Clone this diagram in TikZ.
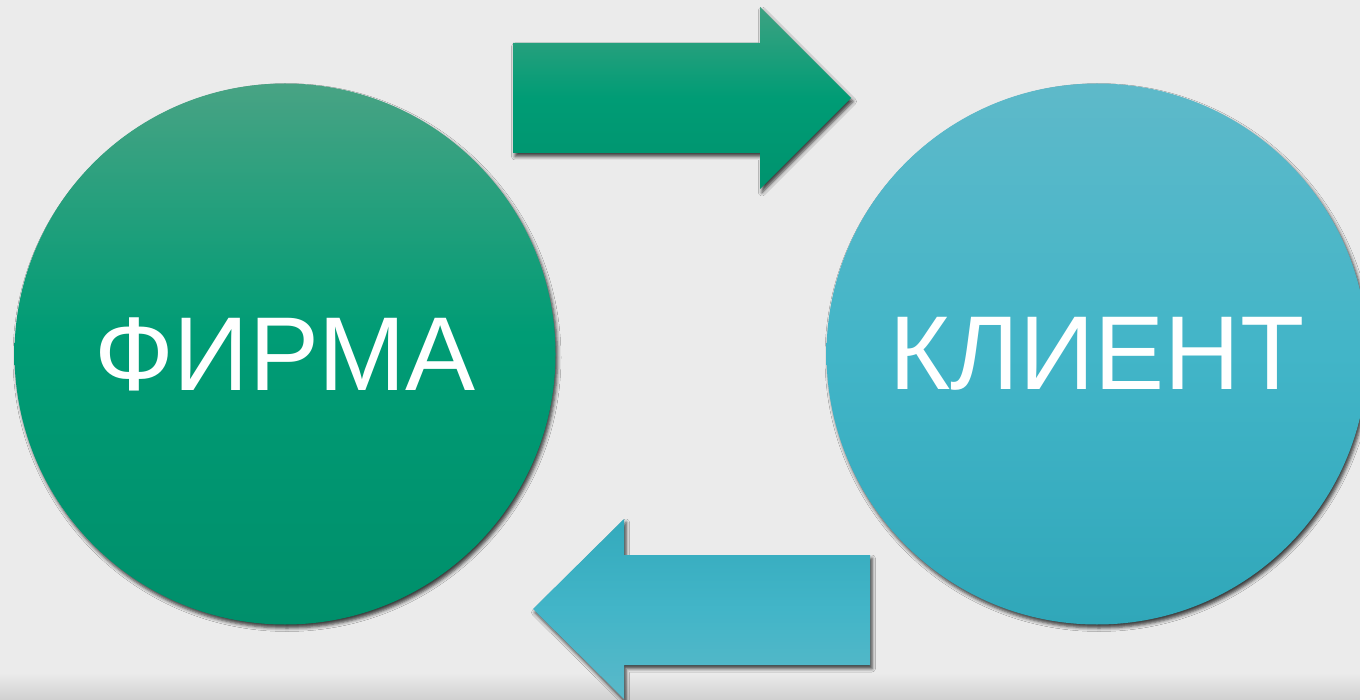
\documentclass[tikz,border=0pt]{standalone}
\usepackage{fontspec}
\setmainfont{Liberation Sans}
\usetikzlibrary{shadows.blur}
\definecolor{bggray}{HTML}{EBEBEB}
\definecolor{bgdark}{HTML}{D0D0D0}
\definecolor{greentop}{HTML}{48A384}
\definecolor{greenmid}{HTML}{009C75}
\definecolor{greenbot}{HTML}{008F6B}
\definecolor{cyantop}{HTML}{5EB9C9}
\definecolor{cyanmid}{HTML}{42B5C8}
\definecolor{cyanbot}{HTML}{30A7B9}

% shape spans 25bp (bottom) to 75bp (top)
\pgfdeclareverticalshading{firmshade}{100bp}{color(0bp)=(greenbot); color(25bp)=(greenbot);
  color(52bp)=(greenmid); color(75bp)=(greentop); color(100bp)=(greentop)}
\pgfdeclareverticalshading{clientshade}{100bp}{color(0bp)=(cyanbot); color(25bp)=(cyanbot);
  color(50bp)=(cyanmid); color(75bp)=(cyantop); color(100bp)=(cyantop)}
\pgfdeclareverticalshading{toshade}{100bp}{color(0bp)=(greenbot); color(25bp)=(greenbot!70!greenmid);
  color(50bp)=(greenmid); color(75bp)=(greentop!85!greenmid); color(100bp)=(greentop)}
\pgfdeclareverticalshading{backshade}{100bp}{color(0bp)=(cyantop); color(25bp)=(cyantop!85!cyanmid);
  color(50bp)=(cyanmid); color(75bp)=(cyanbot!80!cyanmid); color(100bp)=(cyanbot)}

\tikzset{
  softshadow/.style={blur shadow={shadow xshift=2pt,shadow yshift=-3.5pt,
    shadow blur radius=3.5pt,shadow opacity=75}},
  bigcircle/.style={circle,minimum size=541pt,inner sep=0pt,text=white,
    font=\fontsize{105}{110}\selectfont,softshadow},
  firmcircle/.style={bigcircle,shading=firmshade},
  clientcircle/.style={bigcircle,shading=clientshade},
  toarrow/.style={softshadow,shading=toshade},
  backarrow/.style={softshadow,shading=backshade}
}

\begin{document}
\begin{tikzpicture}[x=1pt,y=-1pt]
  \useasboundingbox (0,0) rectangle (1360,700);
  \clip (0,0) rectangle (1360,700);
  % background
  \fill[bggray] (0,0) rectangle (1360,700);
  \shade[top color=bggray,bottom color=bgdark] (0,673) rectangle (1360,700);

  % the two parties
  \node[firmcircle] (firm) at (285,354) {ФИРМА};
  \node[clientcircle] (client) at (1097,354) {КЛИЕНТ};

  % firm -> client
  \path[toarrow] (513,43) -- (760,43) -- (760,7) -- (851,98)
    -- (760,189) -- (760,153) -- (513,153) -- cycle;
  % client -> firm
  \path[backarrow] (870,555) -- (624,555) -- (624,519) -- (533,609)
    -- (624,699) -- (624,665) -- (870,665) -- cycle;
\end{tikzpicture}
\end{document}
